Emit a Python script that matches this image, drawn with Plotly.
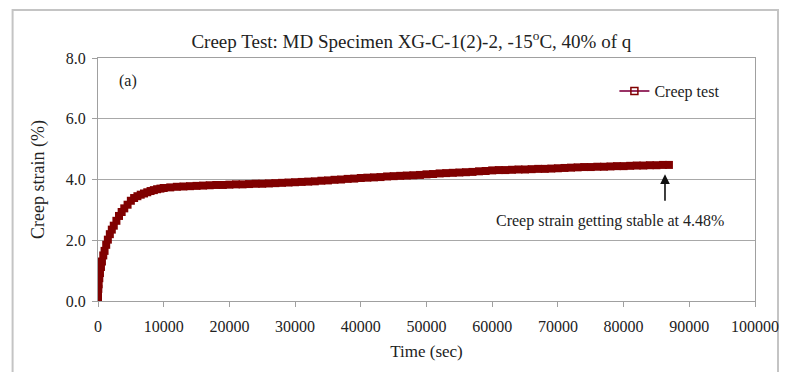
import plotly.graph_objects as go

# time (sec) and creep strain (%)
time_early = [0, 0, 0, 0, 50, 100, 200, 300, 450, 600, 800, 1000, 1250, 1500, 1800,
              2100, 2400, 2800, 3200, 3600, 4000, 4500, 5000, 5500, 6000, 6500, 7000,
              7500, 8000, 8500, 9000, 9500]
strain_early = [0.0, 0.1, 0.2, 0.3, 0.4, 0.55, 0.75, 0.92, 1.12, 1.3, 1.5, 1.65, 1.85,
                2.02, 2.2, 2.35, 2.48, 2.64, 2.8, 2.93, 3.05, 3.17, 3.3, 3.39, 3.45,
                3.5, 3.54, 3.58, 3.62, 3.65, 3.68, 3.7]
time_late = [10000, 11000, 12000, 13000, 14000, 15000, 16000, 17000, 18000, 19000,
             20000, 21000, 22000, 23000, 24000, 25000, 26000, 27000, 28000, 29000,
             30000, 31000, 32000, 33000, 34000, 35000, 36000, 37000, 38000, 39000,
             40000, 41000, 42000, 43000, 44000, 45000, 46000, 47000, 48000, 49000,
             50000, 51000, 52000, 53000, 54000, 55000, 56000, 57000, 58000, 59000,
             60000, 61000, 62000, 63000, 64000, 65000, 66000, 67000, 68000, 69000,
             70000, 71000, 72000, 73000, 74000, 75000, 76000, 77000, 78000, 79000,
             80000, 81000, 82000, 83000, 84000, 85000, 86000, 86900]
strain_late = [3.72, 3.74, 3.76, 3.77, 3.78, 3.79, 3.80, 3.81, 3.82, 3.82,
               3.83, 3.84, 3.84, 3.85, 3.86, 3.86, 3.87, 3.88, 3.89, 3.90,
               3.91, 3.92, 3.93, 3.94, 3.96, 3.97, 3.99, 4.00, 4.02, 4.03,
               4.05, 4.06, 4.07, 4.08, 4.10, 4.11, 4.12, 4.13, 4.14, 4.15,
               4.17, 4.18, 4.20, 4.21, 4.22, 4.23, 4.24, 4.25, 4.27, 4.28,
               4.30, 4.31, 4.31, 4.32, 4.33, 4.33, 4.34, 4.35, 4.35, 4.36,
               4.37, 4.38, 4.39, 4.40, 4.41, 4.41, 4.42, 4.42, 4.43, 4.44,
               4.44, 4.45, 4.46, 4.46, 4.47, 4.47, 4.48, 4.48]

time_sec = time_early + time_late
creep_strain = strain_early + strain_late

y_ticks = [0, 2, 4, 6, 8]
y_tick_labels = ["0.0", "2.0", "4.0", "6.0", "8.0"]
x_ticks = list(range(0, 100001, 10000))

FONT = "Liberation Serif"
RED = "#800000"

fig = go.Figure()
fig.add_trace(go.Scatter(
    x=time_sec, y=creep_strain, mode="lines+markers", name="Creep test",
    showlegend=False,
    line=dict(color=RED, width=2),
    marker=dict(symbol="square", size=8, color=RED, line=dict(width=0)),
))
# legend entry styled like the reference (open square on a line)
fig.add_trace(go.Scatter(
    x=[None], y=[None], mode="lines+markers", name="Creep test",
    line=dict(color="#993366", width=2),
    marker=dict(symbol="square-open", size=7, color=RED, line=dict(width=1.5, color=RED)),
))

fig.update_layout(
    width=791, height=372,
    margin=dict(l=98, r=32, t=58, b=71),
    paper_bgcolor="white", plot_bgcolor="white",
    font=dict(family=FONT, size=16, color="#222"),
    title=dict(text="Creep Test: MD Specimen XG-C-1(2)-2, -15<sup>o</sup>C, 40% of q",
               xref="container", x=0.52, xanchor="center",
               yref="container", y=0.89, yanchor="middle",
               font=dict(family=FONT, size=19, color="#222")),
    showlegend=True,
    legend=dict(x=0.786, xanchor="left", y=0.864, yanchor="middle",
                bgcolor="rgba(0,0,0,0)", font=dict(family=FONT, size=16, color="#222")),
    xaxis=dict(range=[0, 100000], tickvals=x_ticks, ticktext=[str(v) for v in x_ticks],
               showgrid=False, zeroline=False, showline=True, linecolor="#a0a0a0",
               linewidth=1, mirror=True, ticks="outside", ticklen=5, tickcolor="#a0a0a0",
               ticklabelstandoff=6,
               tickfont=dict(family=FONT, size=16),
               title=dict(text="Time (sec)", font=dict(family=FONT, size=17), standoff=10)),
    yaxis=dict(range=[0, 8], tickvals=y_ticks, ticktext=y_tick_labels,
               showgrid=True, gridcolor="#a8a8a8", gridwidth=1, zeroline=False,
               showline=True, linecolor="#a0a0a0", linewidth=1, mirror=True,
               ticks="outside", ticklen=5, tickcolor="#a0a0a0",
               ticklabelstandoff=3,
               tickfont=dict(family=FONT, size=16),
               title=dict(text="Creep strain (%)", font=dict(family=FONT, size=18), standoff=16)),
)

# outer chart frame
fig.add_shape(type="rect", xref="paper", yref="paper",
              x0=-0.130, x1=1.035, y0=-0.40, y1=1.198,
              line=dict(color="#c4c4c4", width=2), fillcolor="rgba(0,0,0,0)", layer="below")

fig.add_annotation(text="(a)", xref="paper", yref="paper", x=0.045, y=0.905,
                   showarrow=False, font=dict(family=FONT, size=16, color="#222"),
                   xanchor="center", yanchor="middle")

fig.add_annotation(x=86300, y=4.17, ax=86300, ay=3.25, xref="x", yref="y",
                   axref="x", ayref="y", text="", showarrow=True,
                   arrowhead=2, arrowsize=1.2, arrowwidth=1.6, arrowcolor="#111")
fig.add_annotation(text="Creep strain getting stable at 4.48%", xref="paper", yref="paper",
                   x=0.78, y=0.33, showarrow=False,
                   font=dict(family=FONT, size=16, color="#222"),
                   xanchor="center", yanchor="middle")

fig.write_html("out.html")
